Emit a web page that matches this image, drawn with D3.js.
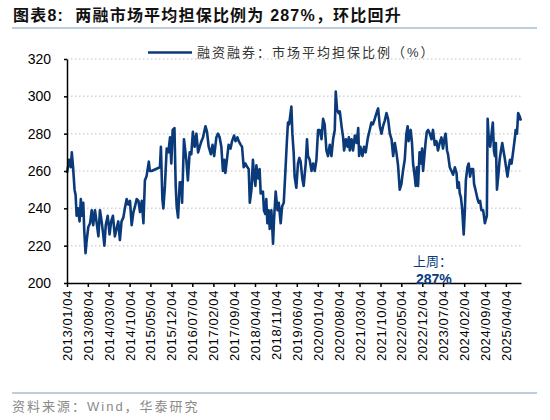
<!DOCTYPE html>
<html>
<head>
<meta charset="utf-8">
<script src="https://cdn.jsdelivr.net/npm/d3@7"></script>
<style>
body { margin: 0; background: #fff; }
text { font-family: "Liberation Sans", Arial, "Noto Sans CJK SC", sans-serif; }
</style>
</head>
<body>
<svg id="chart"></svg>
<script>
// weekly readings
const dates = [
  '2013-01-04','2013-01-26','2013-02-12','2013-02-22','2013-03-07','2013-03-22','2013-04-02','2013-04-12','2013-04-27','2013-05-12','2013-05-25','2013-06-07','2013-06-19','2013-06-29','2013-07-12','2013-07-22','2013-08-09','2013-08-27','2013-09-13','2013-09-28','2013-10-16','2013-11-03','2013-11-20','2013-12-06','2013-12-23',
  '2014-01-08','2014-01-20','2014-02-03','2014-02-23','2014-03-14','2014-03-30','2014-04-17','2014-05-07','2014-05-24','2014-06-11','2014-06-27','2014-07-14','2014-08-01','2014-08-17','2014-09-04','2014-09-21','2014-10-08','2014-10-25','2014-11-12','2014-11-28','2014-12-15',
  '2015-01-02','2015-01-18','2015-02-05','2015-02-22','2015-03-09','2015-03-25','2015-04-18','2015-04-28','2015-05-16','2015-08-09','2015-08-19','2015-09-03','2015-09-13','2015-09-29','2015-10-17','2015-11-03','2015-11-20','2015-12-03','2015-12-17',
  '2016-01-04','2016-01-17','2016-01-27','2016-02-10','2016-02-27','2016-03-14','2016-03-22','2016-04-10','2016-05-04','2016-05-20','2016-06-07','2016-06-24','2016-07-10','2016-07-28','2016-08-15','2016-09-01','2016-09-18','2016-10-05','2016-10-21','2016-11-15','2016-12-01','2016-12-18',
  '2017-01-09','2017-01-26','2017-02-12','2017-03-06','2017-03-22','2017-04-09','2017-04-26','2017-05-12','2017-05-26','2017-06-06','2017-06-26','2017-07-09','2017-07-29','2017-08-13','2017-09-03','2017-09-17','2017-10-07','2017-10-20','2017-11-10','2017-11-23','2017-12-10','2017-12-27',
  '2018-01-17','2018-01-30','2018-02-10','2018-02-27','2018-03-14','2018-03-24','2018-04-08','2018-04-18','2018-05-04','2018-05-21','2018-06-01','2018-06-24','2018-07-04','2018-07-18','2018-07-28','2018-08-08','2018-08-21','2018-09-01','2018-09-18','2018-10-05','2018-10-15','2018-11-01','2018-11-19','2018-12-02','2018-12-22',
  '2019-01-05','2019-01-22','2019-02-09','2019-02-22','2019-03-06','2019-03-18','2019-04-10','2019-04-20','2019-05-03','2019-05-13','2019-05-30','2019-06-16','2019-06-30','2019-07-13','2019-07-30','2019-08-13','2019-09-03','2019-09-16','2019-09-26','2019-10-13','2019-11-01','2019-11-17','2019-12-04','2019-12-21',
  '2020-01-07','2020-01-24','2020-02-11','2020-02-27','2020-03-14','2020-04-01','2020-04-17','2020-05-05','2020-05-22','2020-06-08','2020-06-25','2020-07-05','2020-07-18','2020-08-02','2020-08-15','2020-09-02','2020-09-18','2020-09-28','2020-10-16','2020-11-02','2020-11-15','2020-11-25','2020-12-13','2020-12-28',
  '2021-01-16','2021-02-03','2021-02-19','2021-02-28','2021-03-13','2021-04-03','2021-04-19','2021-05-06','2021-05-29','2021-06-16','2021-07-03','2021-07-19','2021-08-07','2021-08-30','2021-09-10','2021-09-27','2021-10-14','2021-10-30','2021-11-17','2021-12-04','2021-12-20',
  '2022-01-07','2022-01-25','2022-02-10','2022-02-27','2022-03-15','2022-04-01','2022-04-18','2022-05-05','2022-05-21','2022-06-08','2022-06-25','2022-07-08','2022-07-18','2022-08-08','2022-08-21','2022-09-01','2022-09-18','2022-09-28','2022-10-09','2022-10-22','2022-11-06','2022-11-19','2022-12-02','2022-12-12','2022-12-22',
  '2023-01-06','2023-01-19','2023-02-02','2023-02-19','2023-03-07','2023-03-23','2023-04-10','2023-04-27','2023-05-13','2023-05-30','2023-06-17','2023-07-03','2023-07-20','2023-07-30','2023-08-13','2023-08-23','2023-09-10','2023-09-27','2023-10-14','2023-11-01','2023-11-18','2023-11-28','2023-12-11','2023-12-21',
  '2024-01-01','2024-01-14','2024-01-30','2024-02-11','2024-02-21','2024-03-08','2024-03-21','2024-04-04','2024-04-18','2024-05-05','2024-05-15','2024-05-29','2024-06-19','2024-07-02','2024-07-15','2024-07-29','2024-08-15','2024-09-02','2024-09-12','2024-09-22','2024-09-30','2024-10-12','2024-10-26','2024-11-09','2024-11-22','2024-12-03','2024-12-13','2024-12-23',
  '2025-01-03','2025-01-16','2025-01-30','2025-02-13','2025-02-26','2025-03-10','2025-03-23','2025-04-06','2025-04-20','2025-05-03','2025-05-16','2025-06-01','2025-06-16','2025-07-03','2025-07-13','2025-07-26','2025-08-07','2025-08-24','2025-09-04'
];

const ratio = [
  259,266,262,270,262,250,247,236,240,233,245,236,243,228,216,222,230,232,239,231,239,232,225,239,233,
  226,220,231,236,226,233,236,225,229,233,223,233,235,240,245,242,244,231,238,241,245,
  244,238,244,232,255,257,265,260,260,262,273,245,240,252,272,270,278,264,282,
  283,252,241,235,254,254,243,277,266,255,270,269,281,273,280,270,273,276,278,284,281,273,
  269,274,268,278,280,278,273,260,266,259,268,274,272,276,279,276,278,276,274,273,262,264,
  262,261,243,250,266,258,252,263,256,261,248,249,239,237,245,232,239,229,239,221,234,249,239,243,232,
  241,243,261,275,286,285,294.5,280,270,257,251,264,267,265,256,252,264,277,268,266,260,264,260,266,
  282,282,277,288,285,271,268,274,268,277,282,302.5,293,291,292,284,278,271,277,273,278,271,277,271,
  279,275,283,268,273,268,273,270,278,282,286,285,288,292,293.5,284,280,284,287,291,288,
  280,277,268,275,270,263,250,253,260,266,280,284,276,282,275,264,257,252,262,252,270,264,272,260,266,
  275,281,282,280,277,282,274,276,271,275,278,272,278,280,271,269,262,260,258,262,259,251,254,248,
  246,240,226,239,255,262,264,257,261,261,253,250,245,243,244,239,239,232,234,236,288,277,273,280,286,271,268,275,
  250,257,266,271,275,271,267,262,257,262,266,264,270,277,282,280,291,289,287
];

const tickLabels = [
  '2013/01/04','2013/08/04','2014/03/04','2014/10/04','2015/05/04','2015/12/04',
  '2016/07/04','2017/02/04','2017/09/04','2018/04/04','2018/11/04','2019/06/04',
  '2020/01/04','2020/08/04','2021/03/04','2021/10/04','2022/05/04','2022/12/04',
  '2023/07/04','2024/02/04','2024/09/04','2025/04/04'
];
const yTicks = [200, 220, 240, 260, 280, 300, 320];

const titleText = '图表8:  两融市场平均担保比例为 287%，环比回升';
const seriesName = '融资融券：市场平均担保比例（%）';
const noteLabel = '上周：';
const noteValue = '287%';
const sourceText = '资料来源：Wind，华泰研究';

class LineChart {
    constructor (config, data) {
        this.config = {
            parent: config.parent,
            width: config.width || 550,
            height: config.height || 420,
            margin: config.margin || {top:59, right:29, bottom:137, left:67},
            color: config.color || '#0b3a7a'
        };
        this.data = data;
        this.init();
    }

    init() {
        let self = this;

        self.svg = d3.select(self.config.parent)
            .attr('width', self.config.width)
            .attr('height', self.config.height);

        self.chart = self.svg.append('g')
            .attr('transform', `translate(${self.config.margin.left}, ${self.config.margin.top})`);

        self.inner_width = self.config.width - self.config.margin.left - self.config.margin.right;
        self.inner_height = self.config.height - self.config.margin.top - self.config.margin.bottom;

        const parseTick = d3.timeParse('%Y/%m/%d');
        self.tick_dates = tickLabels.map(parseTick);

        self.xscale = d3.scaleTime()
            .domain([new Date(2013, 0, 4), new Date(2025, 8, 5)])
            .range([0, self.inner_width]);

        self.yscale = d3.scaleLinear()
            .domain([d3.min(yTicks), d3.max(yTicks)])
            .range([self.inner_height, 0]);

        self.xaxis = d3.axisBottom(self.xscale)
            .tickValues(self.tick_dates)
            .tickFormat((d, i) => tickLabels[i])
            .tickSize(4)
            .tickSizeOuter(0);

        self.yaxis = d3.axisLeft(self.yscale)
            .tickValues(yTicks)
            .tickSize(3)
            .tickPadding(13)
            .tickSizeOuter(0);

        self.grid_group = self.chart.append('g');
        self.line_path = self.chart.append('path');
        self.xaxis_group = self.chart.append('g')
            .attr('transform', `translate(0, ${self.inner_height})`);
        self.yaxis_group = self.chart.append('g');

        // title + rules
        self.svg.append('text')
            .attr('x', 13)
            .attr('y', 21)
            .style('font-size', '16px')
            .style('font-weight', 'bold')
            .style('letter-spacing', '1.2px')
            .style('white-space', 'pre')
            .attr('fill', '#111')
            .text(titleText);

        self.svg.append('line')
            .attr('x1', 12).attr('x2', 537)
            .attr('y1', 28).attr('y2', 28)
            .attr('stroke', '#a9bcd3')
            .attr('stroke-width', 1.5);

        self.svg.append('line')
            .attr('x1', 12).attr('x2', 537)
            .attr('y1', 393).attr('y2', 393)
            .attr('stroke', '#a9bcd3')
            .attr('stroke-width', 1.5);

        self.svg.append('text')
            .attr('x', 12)
            .attr('y', 411)
            .style('font-size', '13px')
            .style('letter-spacing', '2px')
            .attr('fill', '#8a8a8a')
            .text(sourceText);

        // legend
        self.svg.append('line')
            .attr('x1', 148).attr('x2', 192)
            .attr('y1', 52.5).attr('y2', 52.5)
            .attr('stroke', self.config.color)
            .attr('stroke-width', 2.5);

        self.svg.append('text')
            .attr('x', 197)
            .attr('y', 57)
            .style('font-size', '13px')
            .style('letter-spacing', '2px')
            .attr('fill', '#333')
            .text(seriesName);
    }

    update() {
        let self = this;

        const parseDate = d3.timeParse('%Y-%m-%d');
        self.points = self.data.dates.map((d, i) => ({date: parseDate(d), value: self.data.values[i]}));

        self.xvalue = d => d.date;
        self.yvalue = d => d.value;

        self.render();
    }

    render() {
        let self = this;

        self.grid_group.selectAll('line')
            .data(yTicks.filter(t => t > d3.min(yTicks)))
            .join('line')
            .attr('x1', 0)
            .attr('x2', self.inner_width)
            .attr('y1', d => self.yscale(d))
            .attr('y2', d => self.yscale(d))
            .attr('stroke', '#d4d4d4')
            .attr('stroke-width', 1.5)
            .attr('stroke-dasharray', '1.5,2.5');

        const line = d3.line()
            .x(d => self.xscale( self.xvalue(d) ))
            .y(d => self.yscale( self.yvalue(d) ));

        self.line_path
            .datum(self.points)
            .attr('d', line)
            .attr('fill', 'none')
            .attr('stroke', self.config.color)
            .attr('stroke-width', 2.6)
            .attr('stroke-linejoin', 'round');

        self.xaxis_group
            .call(self.xaxis);

        self.xaxis_group.selectAll('.tick text')
            .attr('transform', 'rotate(-90)')
            .attr('x', -7)
            .attr('y', 0)
            .attr('dy', '0.35em')
            .style('text-anchor', 'end')
            .style('font-size', '13px')
            .style('letter-spacing', '0.6px')
            .attr('fill', '#000');

        self.yaxis_group
            .call(self.yaxis);

        self.yaxis_group.selectAll('.tick text')
            .style('font-size', '14px')
            .attr('fill', '#000');

        self.chart.selectAll('.domain, .tick line')
            .attr('stroke', '#000')
            .attr('stroke-width', 1.5);

        // last-week note
        const note = self.chart.append('g')
            .attr('fill', self.config.color);
        note.append('text')
            .attr('x', 346)
            .attr('y', 207)
            .style('font-size', '13px')
            .text(noteLabel);
        note.append('text')
            .attr('x', 349)
            .attr('y', 225)
            .style('font-size', '14px')
            .style('font-weight', 'bold')
            .text(noteValue);
    }
}

const chart = new LineChart({parent: '#chart'}, {dates: dates, values: ratio});
chart.update();
</script>
</body>
</html>
